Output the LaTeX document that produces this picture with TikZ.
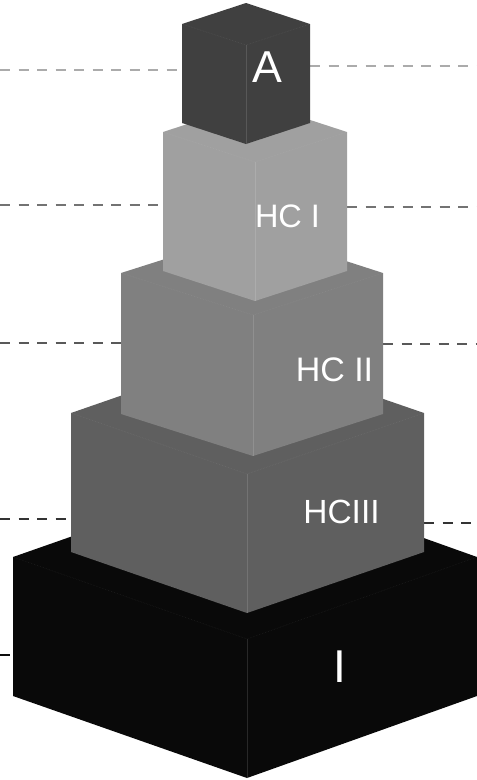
\documentclass[tikz,border=0pt]{standalone}
\usepackage{fontspec}
\setmainfont{Liberation Sans}
\begin{document}
\begin{tikzpicture}[x=1pt,y=-1pt,
  guide/.style={dash pattern=on 10pt off 8.5pt, line width=2.3pt},
  faintedge/.style={draw=white, draw opacity=0.13, line width=0.6pt},
  topedge/.style={draw=white, draw opacity=0.08, line width=0.6pt, densely dotted},
  tiertext/.style={text=white, inner sep=0pt, anchor=center}]

% canvas
\useasboundingbox (0,0) rectangle (477,780);

% a stacked block seen from a corner:
% #1 front edge x, #2 left x, #3 right x, #4 side corner y,
% #5 front top y, #6 height, #7 fill colour
\newcommand\pyrblock[7]{%
  \pgfmathsetmacro\apexy{2*#4-#5}%
  \pgfmathsetmacro\sidebot{#4+#6}%
  \pgfmathsetmacro\frontbot{#5+#6}%
  \fill[#7] (#2,#4) -- (#1,\apexy) -- (#3,#4) -- (#3,\sidebot)
            -- (#1,\frontbot) -- (#2,\sidebot) -- cycle;
  \draw[topedge] (#2,#4) -- (#1,#5) -- (#3,#4);
  \draw[faintedge] (#1,#5) -- (#1,\frontbot);
}

\definecolor{tierA}{HTML}{404040}
\definecolor{tierHCI}{HTML}{A0A0A0}
\definecolor{tierHCII}{HTML}{808080}
\definecolor{tierHCIII}{HTML}{5F5F5F}
\definecolor{tierI}{HTML}{090909}

% level guides behind the stack
\draw[guide, color=black!33] (0,70) -- (182,70);
\draw[guide, color=black!33] (310,66) -- (477,66);
\draw[guide, color=black!55] (0,205) -- (163,205);
\draw[guide, color=black!55] (347,207) -- (477,207);
\draw[guide, color=black!65] (0,343) -- (121,343);
\draw[guide, color=black!65] (383,344) -- (477,344);
\draw[guide, color=black!80] (0,519) -- (71,519);
\draw[guide, color=black!80] (424,523) -- (477,523);
\draw[guide, color=black!95] (0,655) -- (13,655);

% the stack, bottom tier first
\pyrblock{247}{13}{477}{557}{639}{139}{tierI}
\pyrblock{247}{71}{424}{413}{474}{139}{tierHCIII}
\pyrblock{253}{121}{383}{273}{315}{141}{tierHCII}
\pyrblock{255}{163}{347}{132}{162}{139}{tierHCI}
\pyrblock{246}{182}{310}{24}{45}{99}{tierA}

% tier labels
\node[tiertext, font=\fontsize{44.7}{50}\selectfont] (labA) at (267,67) {A};
\node[tiertext, font=\fontsize{32.5}{38}\selectfont] (labHCI) at (287.5,216.5) {HC I};
\node[tiertext, font=\fontsize{34}{40}\selectfont] (labHCII) at (334.5,369.5) {HC II};
\node[tiertext, font=\fontsize{33.5}{40}\selectfont] (labHCIII) at (341.5,512) {HCIII};
\node[tiertext, font=\fontsize{46}{52}\selectfont] (labI) at (339.5,666.5) {I};
\end{tikzpicture}
\end{document}
